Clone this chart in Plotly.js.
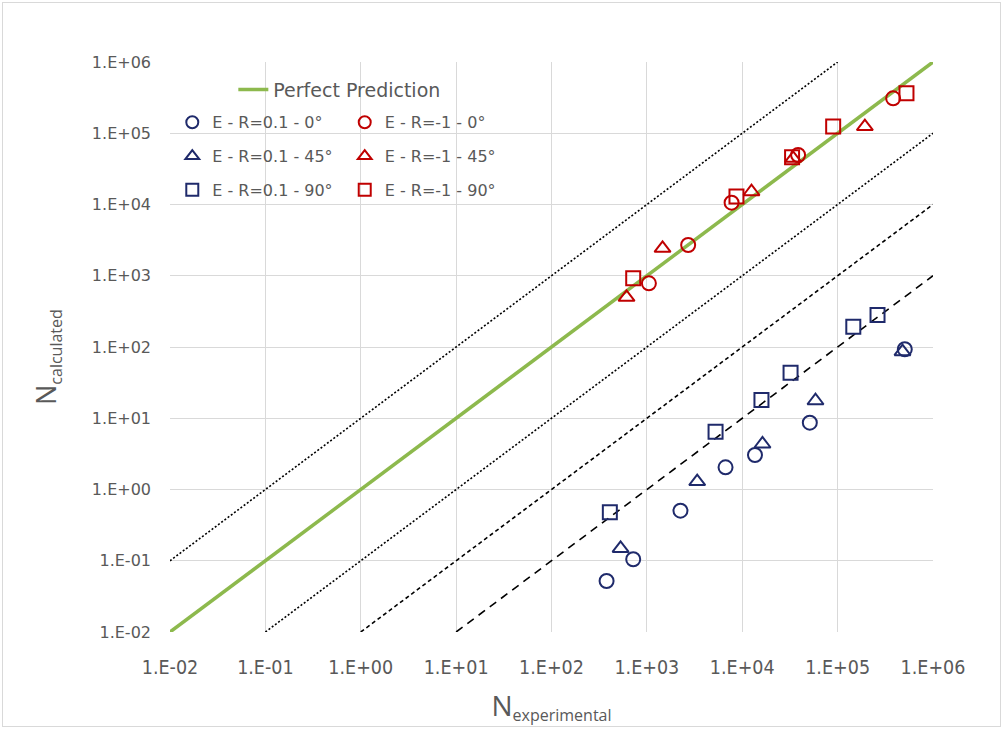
<!DOCTYPE html>
<html><head><meta charset="utf-8">
<script src="https://cdn.plot.ly/plotly-3.0.1.min.js"></script>
<style>
html,body{margin:0;padding:0;background:#fff;}
#frame{position:absolute;left:2px;top:2px;width:997px;height:723px;border:1px solid #d9d9d9;pointer-events:none;z-index:5;}
#chart{width:1003px;height:729px;}
</style></head>
<body><div id="frame"></div><div id="chart"></div>
<script>
// Reference lines (endpoints)
const perfectX = [0.01, 1e6], perfectY = [0.01, 1e6];
const dotUpX = [0.01, 1e5], dotUpY = [0.1, 1e6];
const dotLowX = [0.1, 1e6], dotLowY = [0.01, 1e5];
const dash100X = [1, 1e6], dash100Y = [0.01, 1e4];
const dash1000X = [10, 1e6], dash1000Y = [0.01, 1e3];

// Blue series R=0.1
const b0X = [378, 719, 2250, 6680, 13600, 51100, 506000];
const b0Y = [0.052, 0.105, 0.505, 2.05, 3.05, 8.67, 92.9];
const b45X = [530, 3370, 16300, 58600, 479000];
const b45Y = [0.149, 1.29, 4.35, 17.6, 85.9];
const b90X = [409, 5250, 15900, 32100, 146000, 262000];
const b90Y = [0.479, 6.48, 18.0, 43.6, 193, 281];

// Red series R=-1
const r0X = [1050, 2710, 7730, 38500, 382000];
const r0Y = [783, 2700, 10600, 49500, 309000];
const r45X = [612, 1460, 12500, 34200, 193000];
const r45Y = [498, 2430, 15100, 44500, 124000];
const r90X = [719, 8700, 33300, 89800, 527000];
const r90Y = [920, 12900, 46000, 124000, 364000];

const tickVals = [1e-2, 1e-1, 1, 10, 100, 1e3, 1e4, 1e5, 1e6];
const xTickText = ['1.E-02','1.E-01','1.E+00','1.E+01','1.E+02','1.E+03','1.E+04','1.E+05','1.E+06'];
const yTickText = ['1.E-02','1.E-01','1.E+00','1.E+01','1.E+02','1.E+03','1.E+04','1.E+05','1.E+06'];

const BLUE = '#1f2a6b', RED = '#c00000', GREEN = '#8db94d';

function ref(x, y, dash, width) {
  return {x: x, y: y, mode: 'lines', showlegend: false, hoverinfo: 'skip',
          line: {color: '#000', width: width, dash: dash}};
}
function pts(x, y, name, sym, color, legend, grp) {
  return {x: x, y: y, mode: 'markers', name: name, legend: legend, legendgroup: grp,
          marker: {symbol: sym, size: 14, color: color, line: {color: color, width: 2}}};
}

const data = [
  ref(dotUpX, dotUpY, '2px,2px', 1.6),
  ref(dotLowX, dotLowY, '2px,2px', 1.6),
  ref(dash100X, dash100Y, '4px,3px', 1.6),
  ref(dash1000X, dash1000Y, '8px,6px', 1.6),
  {x: perfectX, y: perfectY, mode: 'lines', name: 'Perfect Prediction', legend: 'legend',
   line: {color: GREEN, width: 3.5}},
  pts(b0X, b0Y, 'E - R=0.1 - 0°', 'circle-open', BLUE, 'legend2', 'a'),
  pts(b45X, b45Y, 'E - R=0.1 - 45°', 'triangle-up-open', BLUE, 'legend2', 'b'),
  pts(b90X, b90Y, 'E - R=0.1 - 90°', 'square-open', BLUE, 'legend2', 'c'),
  pts(r0X, r0Y, 'E - R=-1 - 0°', 'circle-open', RED, 'legend3', 'd'),
  pts(r45X, r45Y, 'E - R=-1 - 45°', 'triangle-up-open', RED, 'legend3', 'e'),
  pts(r90X, r90Y, 'E - R=-1 - 90°', 'square-open', RED, 'legend3', 'f')
];

const legFont = {family: 'DejaVu Sans, sans-serif', size: 16, color: '#595959'};
const layout = {
  width: 1003, height: 729,
  margin: {l: 170, r: 70, t: 62, b: 97},
  paper_bgcolor: '#fff', plot_bgcolor: '#fff',
  xaxis: {type: 'log', range: [-2, 6], tickvals: tickVals, ticktext: xTickText,
          showgrid: true, gridcolor: '#d9d9d9', gridwidth: 1, zeroline: false,
          showline: false, ticks: '', ticklabelstandoff: 21,
          tickfont: {family: 'Liberation Sans Narrow, DejaVu Sans Condensed, Roboto, sans-serif', size: 19.5, color: '#595959'},
          title: {text: 'N<sub><span style="font-size:16px">experimental</span></sub>', standoff: 18,
                  font: {family: 'Open Sans, Noto Sans, sans-serif', size: 28, color: '#595959'}}},
  yaxis: {type: 'log', range: [-2, 6], tickvals: tickVals, ticktext: yTickText,
          showgrid: true, gridcolor: '#d9d9d9', gridwidth: 1, zeroline: false,
          showline: false, ticks: '', ticklabelstandoff: 18,
          tickfont: {family: 'DejaVu Sans, sans-serif', size: 16, color: '#595959'}},
  annotations: [{
    text: 'N<sub><span style="font-size:16px">calculated</span></sub>', textangle: -90,
    xref: 'paper', yref: 'paper', x: (47 - 170) / 763, y: (632 - 357) / 570,
    xanchor: 'center', yanchor: 'middle', showarrow: false,
    font: {family: 'Open Sans, Noto Sans, sans-serif', size: 27, color: '#595959'}
  }],
  shapes: [{
    type: 'rect', xref: 'paper', yref: 'paper', layer: 'between',
    x0: (178 - 170) / 763, x1: (505 - 170) / 763, y0: (632 - 205) / 570, y1: (632 - 72) / 570,
    fillcolor: '#fff', line: {width: 0}
  }],
  legend: {x: 0.083, y: 0.985, xanchor: 'left', yanchor: 'top', bgcolor: 'rgba(255,255,255,0)',
           font: {family: 'DejaVu Sans, sans-serif', size: 19, color: '#595959'}, itemwidth: 30},
  legend2: {x: 0.003, y: 0.924, xanchor: 'left', yanchor: 'top', bgcolor: 'rgba(255,255,255,0)',
            font: legFont, itemwidth: 30, tracegroupgap: 10, itemsizing: 'constant'},
  legend3: {x: 0.229, y: 0.924, xanchor: 'left', yanchor: 'top', bgcolor: 'rgba(255,255,255,0)',
            font: legFont, itemwidth: 30, tracegroupgap: 10, itemsizing: 'constant'},
  showlegend: true
};

Plotly.newPlot('chart', data, layout, {displayModeBar: false, staticPlot: true});
</script></body></html>
